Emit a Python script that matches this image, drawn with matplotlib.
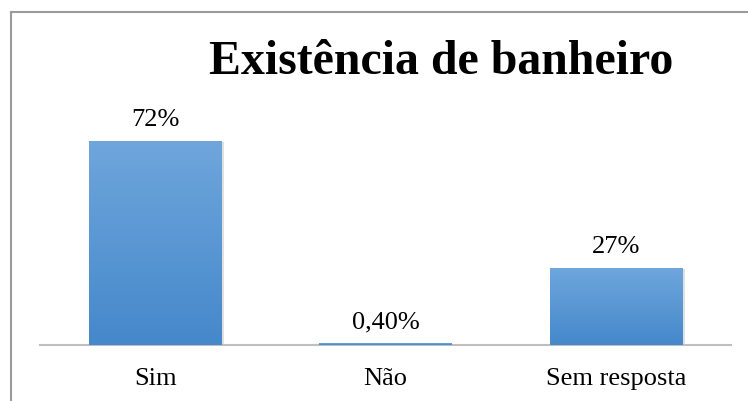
import matplotlib.pyplot as plt
import numpy as np
from matplotlib.colors import LinearSegmentedColormap
from matplotlib.lines import Line2D

categories = ["Sim", "Não", "Sem resposta"]
values = [72, 0.4, 27]
value_labels = ["72%", "0,40%", "27%"]
title = "Existência de banheiro"

W, H = 748, 401
fig = plt.figure(figsize=(W / 100, H / 100), dpi=100)
plt.rcParams["font.family"] = ["Liberation Serif", "DejaVu Serif"]

# axes placed in pixel terms: x 40..731, baseline at y=345, top at y=20
ax = fig.add_axes([40 / W, (H - 345) / H, (731 - 40) / W, (345 - 20) / H])
px_per_pct = (345 - 141) / 72.0
ax.set_ylim(0, (345 - 20) / px_per_pct)

cmap = LinearSegmentedColormap.from_list("bar", ["#4588CB", "#6FA6DC"])
grad = np.linspace(0, 1, 256).reshape(-1, 1)
bw = 0.575
x = np.arange(len(categories))
for xi, v in zip(x, values):
    # soft shadow
    ax.bar(xi + 0.012, v, width=bw, bottom=-0.3, color="#000000", alpha=0.12, zorder=1)
    ax.imshow(grad, extent=[xi - bw / 2, xi + bw / 2, 0, v], origin="lower",
              cmap=cmap, aspect="auto", zorder=3)
ax.set_aspect("auto")
ax.set_xlim(-0.5, len(categories) - 0.5)

for xi, v, lab in zip(x, values, value_labels):
    ax.annotate(lab, (xi, v), xytext=(0, 11), textcoords="offset points",
                ha="center", va="baseline", fontsize=19, color="#000000")

ax.set_xticks(x)
ax.set_xticklabels(categories, fontsize=19)
ax.tick_params(axis="x", length=0, pad=16.5)
ax.set_yticks([])
for s in ["top", "right", "left"]:
    ax.spines[s].set_visible(False)
ax.spines["bottom"].set_color("#BFBFBF")
ax.spines["bottom"].set_linewidth(1.5)
ax.spines["bottom"].set_zorder(2)
ax.set_facecolor("none")

fig.text(441 / W, 1 - 74 / H, title, ha="center", va="baseline",
         fontsize=34.5, fontweight="bold", color="#000000")

# outer border (left and top visible)
fig.add_artist(Line2D([10.5 / W, 10.5 / W], [0, 1 - 11.5 / H], transform=fig.transFigure,
                      color="#9A9A9A", lw=1.5))
fig.add_artist(Line2D([10.5 / W, 1], [1 - 11.5 / H, 1 - 11.5 / H], transform=fig.transFigure,
                      color="#9A9A9A", lw=1.5))

fig.savefig("out.png", dpi=100)
